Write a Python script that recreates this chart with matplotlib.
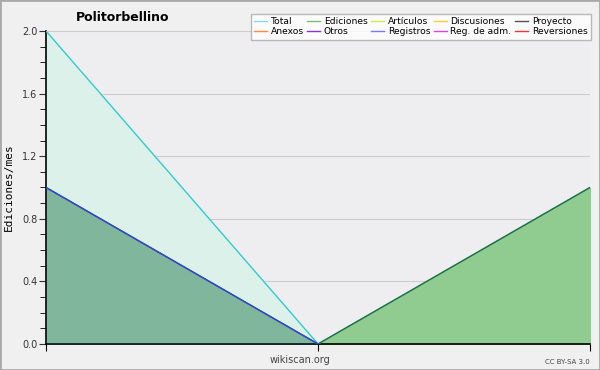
import matplotlib.pyplot as plt
from matplotlib.lines import Line2D
from matplotlib.patches import Rectangle

# monthly edits (three points, x labels hidden)
meses = [0, 1, 2]
total = [2, 0, 1]
ediciones = [1, 0, 1]
registros = [1, 0, 0]

leyenda = ['Total', 'Ediciones', 'Artículos', 'Discusiones', 'Proyecto',
           'Anexos', 'Otros', 'Registros', 'Reg. de adm.', 'Reversiones']
colores = ['#88dddd', '#77bb77', '#ccee44', '#ffcc33', '#555555',
           '#ff8844', '#8833dd', '#7777ff', '#dd44dd', '#ee3333']

fig = plt.figure(figsize=(6, 3.7), dpi=100, facecolor='#f0f0f0')
fig.patches.append(Rectangle((0, 0), 1, 1, transform=fig.transFigure, fill=False,
                             edgecolor='#aaaaaa', linewidth=2))
ax = fig.add_axes([0.0767, 0.0703, 0.9066, 0.8459])
ax.set_facecolor('#eeeef0')

ax.fill_between(meses, total, color='#dcf1ea', zorder=1)
ax.plot(meses, total, color='#33cccc', lw=1, zorder=4)
ax.fill_between(meses, ediciones, color='#90cc90', zorder=2)
ax.plot(meses, ediciones, color='#2d6b3d', lw=1, zorder=5)
ax.fill_between(meses, registros, color='#3355dd', alpha=0.17, lw=0, zorder=3)
ax.plot(meses[:2], registros[:2], color='#3344dd', lw=1, zorder=6)

ax.set_xlim(0, 2)
ax.set_ylim(0, 2)
ax.set_yticks([0, 0.4, 0.8, 1.2, 1.6, 2.0])
ax.set_yticklabels(['0.0', '0.4', '0.8', '1.2', '1.6', '2.0'])
ax.set_yticks([i / 10 for i in range(21)], minor=True)
ax.set_xticks([0, 1, 2])
ax.set_xticklabels([])
ax.grid(axis='y', color='#cccccc', lw=0.8, zorder=0)
ax.set_axisbelow(True)
for s in ['top', 'right']:
    ax.spines[s].set_visible(False)
ax.spines['left'].set_linewidth(1.2)
ax.spines['bottom'].set_linewidth(1.2)
ax.tick_params(axis='y', which='major', length=5, labelsize=7, colors='#333333', pad=1)
ax.tick_params(axis='y', which='minor', length=4)
ax.tick_params(axis='x', length=5)
ax.set_ylabel('Ediciones/mes', fontsize=8, family='DejaVu Sans Mono', labelpad=6)

fig.text(0.205, 0.952, 'Politorbellino', fontsize=9, fontweight='bold', ha='center', va='center')
fig.text(0.5, 0.027, 'wikiscan.org', fontsize=7, ha='center', va='center', color='#444444')
fig.text(0.983, 0.022, 'CC BY-SA 3.0', fontsize=5, ha='right', va='center', color='#444444')

# legend is filled column-wise, so reorder for row layout
orden = [0, 5, 1, 6, 2, 7, 3, 8, 4, 9]
handles = [Line2D([], [], color=colores[i], lw=1) for i in orden]
labels = [leyenda[i] for i in orden]
fig.legend(handles, labels, ncol=5, loc='upper right', bbox_to_anchor=(0.992, 0.975),
           fontsize=6.6, frameon=True, fancybox=False, edgecolor='#aaaaaa',
           handlelength=1.4, handletextpad=0.4, columnspacing=0.4,
           labelspacing=0.15, borderpad=0.35)

fig.savefig('out.png', dpi=100, facecolor=fig.get_facecolor())
